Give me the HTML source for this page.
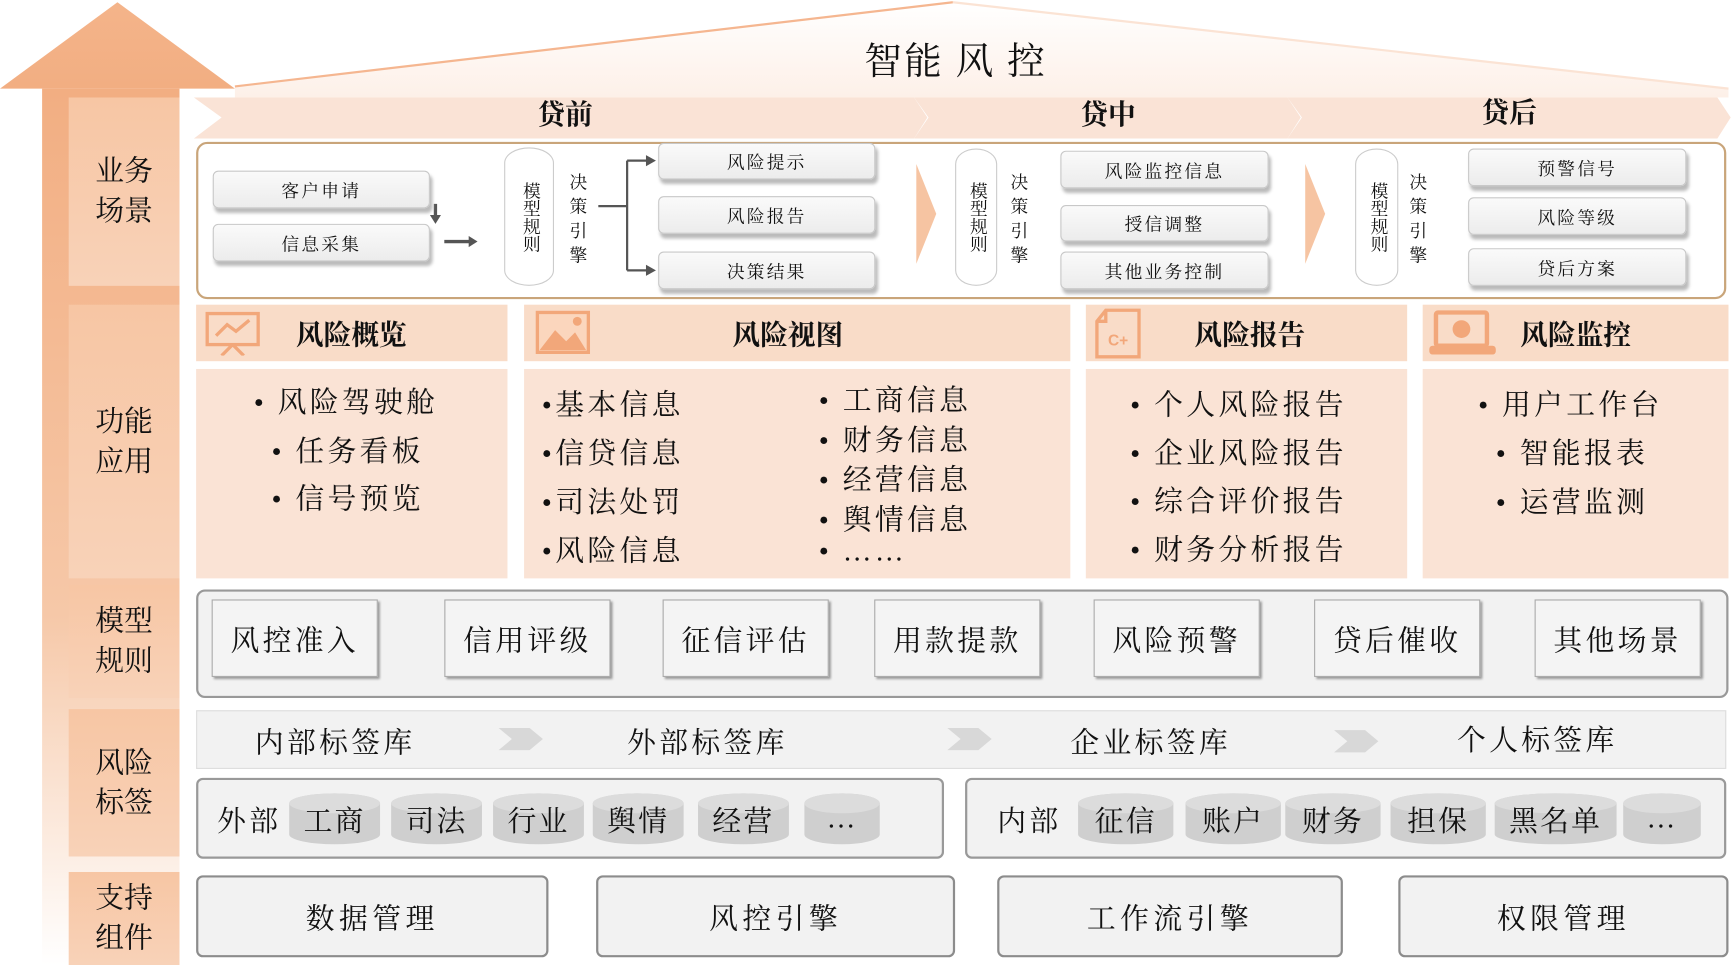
<!DOCTYPE html><html><head><meta charset="utf-8"><style>
*{margin:0;padding:0;box-sizing:border-box}
body{width:1734px;height:965px;overflow:hidden;background:#fff;font-family:"Liberation Serif","Noto Serif CJK SC",serif;color:#111}
#w{position:absolute;left:0;top:0;width:1565px;height:871px;transform:scale(1.108);transform-origin:0 0}
.a{position:absolute}
.lab{position:absolute;left:62px;width:100px;background:linear-gradient(#f7c6a4,#f8d2b8);font-size:26px;line-height:36px;display:flex;align-items:center;justify-content:center;text-align:center}
.btn{position:absolute;background:linear-gradient(#fafafa,#ececec);border:1px solid #c8c8c8;border-radius:5px;box-shadow:2px 4px 3px #bbb;font-size:16px;display:flex;align-items:center;justify-content:center;letter-spacing:2px}
.cyl{position:absolute;border:1px solid #ccc;border-radius:50%/14px;background:#fff;font-size:16px;line-height:22px;writing-mode:vertical-rl;display:flex;align-items:center;justify-content:center}
.vt{position:absolute;font-size:16px;line-height:22px;width:20px;text-align:center}
.fh{position:absolute;top:275px;height:51px;background:#f9dcc8;font-size:25px;font-weight:bold;display:flex;align-items:center}
.fb{position:absolute;top:333px;height:189px;background:#fae3d5;font-size:26px;letter-spacing:3px}
.fb div{position:absolute;white-space:nowrap}
.mb{position:absolute;top:541px;width:150px;height:70px;background:#f4f4f4;border:1px solid #aaa;box-shadow:2px 2px 2px #999;font-size:26px;letter-spacing:3px;display:flex;align-items:center;justify-content:center}
.cy{position:absolute;top:716px;height:46px;background:#cfcfcf;border-radius:50%/9px;font-size:26px;display:flex;align-items:center;justify-content:center;letter-spacing:2px}
.cy:before{content:"";position:absolute;left:0;right:0;top:0;height:18px;border-radius:50%;background:#dcdcdc}
.cy span{position:relative}
.sb{position:absolute;top:790px;height:74px;background:#f2f2f2;border:2px solid #8c8c8c;border-radius:6px;font-size:26px;letter-spacing:4px;display:flex;align-items:center;justify-content:center}
</style></head><body><div id="w">
<svg class="a" style="left:0;top:0" width="1565" height="871">
<defs><linearGradient id="sh" x1="0" y1="0" x2="0" y2="1"><stop offset="0" stop-color="#f2ae82"/><stop offset="0.6" stop-color="#f6c8a8"/><stop offset="1" stop-color="#fff"/></linearGradient>
<linearGradient id="rf" x1="0" y1="0" x2="0" y2="1"><stop offset="0" stop-color="#fff"/><stop offset="1" stop-color="#fdf0e8"/></linearGradient>
<linearGradient id="hd" x1="0" y1="0" x2="0" y2="1"><stop offset="0" stop-color="#f4b48a"/><stop offset="1" stop-color="#f2ae82"/></linearGradient></defs>
<polygon points="212,78 860,2 1560,80 1560,88 212,88" fill="url(#rf)"/>
<line x1="212" y1="78" x2="860" y2="2" stroke="#f5b690" stroke-width="2"/>
<line x1="860" y1="2" x2="1560" y2="80" stroke="#fbe3d4" stroke-width="2"/>
<rect x="38" y="80" width="124" height="791" fill="url(#sh)"/>
<polygon points="0,80 106,2 212,80" fill="url(#hd)"/>
<polygon points="175,88 825,88 837,106 825,125 175,125 200,106" fill="#fae3d6"/>
<polygon points="825,88 1162,88 1174,106 1162,125 825,125 838,106" fill="#fae3d6"/>
<polygon points="1162,88 1550,88 1562,106 1550,125 1162,125 1175,106" fill="#fae3d6"/>
<polygon points="827,148 845,193 827,238" fill="#f6c4a2"/>
<polygon points="1178,148 1196,193 1178,238" fill="#f6c4a2"/>
<g stroke="#555" stroke-width="3" fill="#555"><line x1="393" y1="184" x2="393" y2="196"/><polygon points="388,194 398,194 393,202" stroke="none"/>
<line x1="401" y1="218" x2="424" y2="218"/><polygon points="423,213 431,218 423,223" stroke="none"/></g>
<g stroke="#555" stroke-width="2" fill="#555"><line x1="540" y1="186" x2="566" y2="186"/><line x1="566" y1="145" x2="566" y2="244"/><line x1="566" y1="145" x2="584" y2="145"/><line x1="566" y1="244" x2="584" y2="244"/>
<polygon points="583,140 592,145 583,150" stroke="none"/><polygon points="583,239 592,244 583,249" stroke="none"/></g>
</svg>
<div class="a" style="left:780px;top:28px;font-size:34px;letter-spacing:2px">智能 风 控</div>
<div class="a" style="left:485px;top:88px;font-size:25px;font-weight:bold;line-height:34px">贷前</div>
<div class="a" style="left:975px;top:88px;font-size:25px;font-weight:bold;line-height:34px">贷中</div>
<div class="a" style="left:1337px;top:86px;font-size:25px;font-weight:bold;line-height:34px">贷后</div>
<div class="lab" style="top:88px;height:170px">业务<br>场景</div>
<div class="lab" style="top:275px;height:247px">功能<br>应用</div>
<div class="lab" style="top:528px;height:102px">模型<br>规则</div>
<div class="lab" style="top:640px;height:133px">风险<br>标签</div>
<div class="lab" style="top:787px;height:84px">支持<br>组件</div>
<div class="a" style="left:177px;top:128px;width:1381px;height:142px;border:2px solid #c9a57a;border-radius:10px"></div>
<div class="btn" style="left:192px;top:154px;width:196px;height:34px">客户申请</div>
<div class="btn" style="left:192px;top:202px;width:196px;height:34px">信息采集</div>
<div class="cyl" style="left:455px;top:133px;width:45px;height:125px">模型规则</div>
<div class="vt" style="left:512px;top:155px">决<br>策<br>引<br>擎</div>
<div class="btn" style="left:594px;top:129px;width:196px;height:33px">风险提示</div>
<div class="btn" style="left:594px;top:177px;width:196px;height:34px">风险报告</div>
<div class="btn" style="left:594px;top:227px;width:196px;height:34px">决策结果</div>
<div class="cyl" style="left:862px;top:134px;width:38px;height:124px">模型规则</div>
<div class="vt" style="left:910px;top:155px">决<br>策<br>引<br>擎</div>
<div class="btn" style="left:957px;top:136px;width:188px;height:34px">风险监控信息</div>
<div class="btn" style="left:957px;top:185px;width:188px;height:33px">授信调整</div>
<div class="btn" style="left:957px;top:227px;width:188px;height:34px">其他业务控制</div>
<div class="cyl" style="left:1223px;top:134px;width:39px;height:124px">模型规则</div>
<div class="vt" style="left:1270px;top:155px">决<br>策<br>引<br>擎</div>
<div class="btn" style="left:1325px;top:134px;width:197px;height:34px">预警信号</div>
<div class="btn" style="left:1325px;top:178px;width:197px;height:34px">风险等级</div>
<div class="btn" style="left:1325px;top:224px;width:197px;height:34px">贷后方案</div>

<div class="fh" style="left:177px;width:281px"><svg class="a" style="left:8px;top:6px" width="52" height="40"><rect x="2" y="2" width="46" height="28" fill="none" stroke="#f2a77a" stroke-width="3"/><polyline points="10,22 20,12 28,18 40,8" fill="none" stroke="#f2a77a" stroke-width="3"/><line x1="25" y1="30" x2="15" y2="40" stroke="#f2a77a" stroke-width="3"/><line x1="25" y1="30" x2="35" y2="40" stroke="#f2a77a" stroke-width="3"/></svg><span class="a" style="left:90px">风险概览</span></div>
<div class="fh" style="left:473px;width:493px"><svg class="a" style="left:10px;top:5px" width="52" height="42"><rect x="2" y="2" width="46" height="36" fill="#fbd6bd" stroke="#f2a77a" stroke-width="3"/><polygon points="4,36 18,18 28,28 36,20 46,36" fill="#f2a77a"/><circle cx="38" cy="10" r="4" fill="#f2a77a"/></svg><span class="a" style="left:188px">风险视图</span></div>
<div class="fh" style="left:980px;width:290px"><svg class="a" style="left:6px;top:3px" width="46" height="46"><path d="M12,2 H42 V44 H4 V12 Z M12,2 V12 H4" fill="none" stroke="#f2a77a" stroke-width="3"/><text x="14" y="34" font-size="14" fill="#f2a77a" font-family="Liberation Sans">C+</text></svg><span class="a" style="left:98px">风险报告</span></div>
<div class="fh" style="left:1284px;width:276px"><svg class="a" style="left:4px;top:5px" width="64" height="42"><rect x="8" y="2" width="46" height="30" rx="2" fill="none" stroke="#f2a77a" stroke-width="4"/><rect x="2" y="32" width="60" height="8" rx="3" fill="#f2a77a"/><circle cx="31" cy="17" r="8" fill="#f2a77a"/></svg><span class="a" style="left:88px">风险监控</span></div>
<div class="fb" style="left:177px;width:281px"><div style="left:52px;top:10px">•&nbsp;风险驾驶舱</div><div style="left:68px;top:54px">•&nbsp;任务看板</div><div style="left:68px;top:97px">•&nbsp;信号预览</div></div>
<div class="fb" style="left:473px;width:493px"><div style="left:16px;top:12px">•基本信息</div><div style="left:16px;top:56px">•信贷信息</div><div style="left:16px;top:100px">•司法处罚</div><div style="left:16px;top:144px">•风险信息</div>
<div style="left:266px;top:8px">•&nbsp;工商信息</div><div style="left:266px;top:44px">•&nbsp;财务信息</div><div style="left:266px;top:80px">•&nbsp;经营信息</div><div style="left:266px;top:116px">•&nbsp;舆情信息</div><div style="left:266px;top:150px">•&nbsp;……</div></div>
<div class="fb" style="left:980px;width:290px"><div style="left:40px;top:12px">•&nbsp;个人风险报告</div><div style="left:40px;top:56px">•&nbsp;企业风险报告</div><div style="left:40px;top:99px">•&nbsp;综合评价报告</div><div style="left:40px;top:143px">•&nbsp;财务分析报告</div></div>
<div class="fb" style="left:1284px;width:276px"><div style="left:50px;top:12px">•&nbsp;用户工作台</div><div style="left:66px;top:56px">•&nbsp;智能报表</div><div style="left:66px;top:100px">•&nbsp;运营监测</div></div>

<div class="a" style="left:177px;top:532px;width:1383px;height:98px;background:#f2f2f2;border:2px solid #999;border-radius:8px"></div>
<div class="mb" style="left:191px">风控准入</div><div class="mb" style="left:401px">信用评级</div><div class="mb" style="left:598px">征信评估</div><div class="mb" style="left:789px">用款提款</div><div class="mb" style="left:987px">风险预警</div><div class="mb" style="left:1186px">贷后催收</div><div class="mb" style="left:1385px">其他场景</div>

<div class="a" style="left:177px;top:641px;width:1381px;height:53px;background:#f2f2f2;border:1px solid #ddd"></div>
<svg class="a" style="left:0;top:0" width="1565" height="871"><g fill="#d8d8d8"><polygon points="450,657 478,657 490,667 478,677 450,677 462,667"/><polygon points="855,657 883,657 895,667 883,677 855,677 867,667"/><polygon points="1204,659 1232,659 1244,669 1232,679 1204,679 1216,669"/></g></svg>
<div class="a" style="left:230px;top:650px;font-size:26px;letter-spacing:3px">内部标签库</div>
<div class="a" style="left:566px;top:650px;font-size:26px;letter-spacing:3px">外部标签库</div>
<div class="a" style="left:966px;top:650px;font-size:26px;letter-spacing:3px">企业标签库</div>
<div class="a" style="left:1315px;top:648px;font-size:26px;letter-spacing:3px">个人标签库</div>
<div class="a" style="left:177px;top:702px;width:675px;height:73px;background:#f2f2f2;border:2px solid #999;border-radius:6px"></div>
<div class="a" style="left:871px;top:702px;width:687px;height:73px;background:#f2f2f2;border:2px solid #999;border-radius:6px"></div>
<div class="a" style="left:196px;top:721px;font-size:26px;letter-spacing:3px">外部</div>
<div class="cy" style="left:261px;width:82px"><span>工商</span></div><div class="cy" style="left:353px;width:82px"><span>司法</span></div><div class="cy" style="left:445px;width:82px"><span>行业</span></div><div class="cy" style="left:535px;width:82px"><span>舆情</span></div><div class="cy" style="left:630px;width:82px"><span>经营</span></div><div class="cy" style="left:726px;width:68px"><span>…</span></div>
<div class="a" style="left:900px;top:721px;font-size:26px;letter-spacing:3px">内部</div>
<div class="cy" style="left:973px;width:86px"><span>征信</span></div><div class="cy" style="left:1070px;width:86px"><span>账户</span></div><div class="cy" style="left:1160px;width:86px"><span>财务</span></div><div class="cy" style="left:1255px;width:86px"><span>担保</span></div><div class="cy" style="left:1349px;width:110px"><span>黑名单</span></div><div class="cy" style="left:1465px;width:70px"><span>…</span></div>

<div class="sb" style="left:177px;width:318px">数据管理</div><div class="sb" style="left:538px;width:324px">风控引擎</div><div class="sb" style="left:900px;width:312px">工作流引擎</div><div class="sb" style="left:1262px;width:298px">权限管理</div>
</div></body></html>
